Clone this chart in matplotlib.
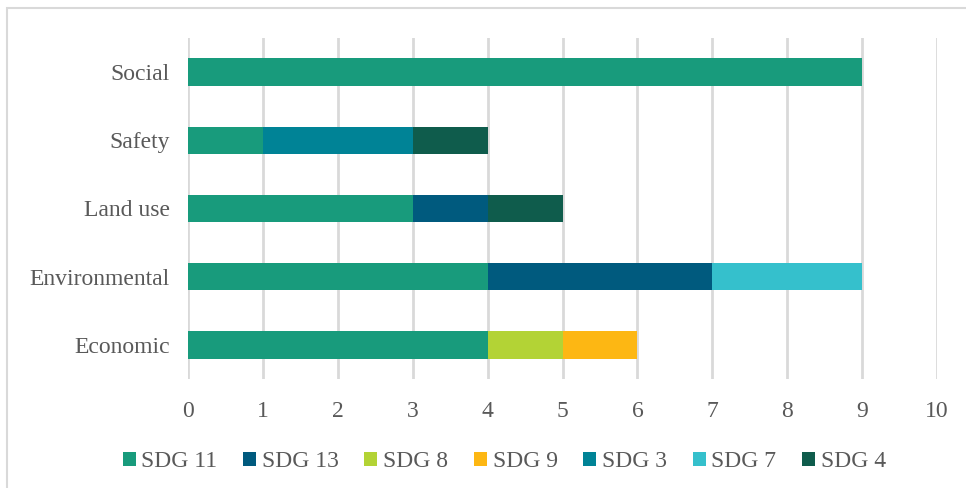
import numpy as np
from matplotlib import pyplot as plt
from matplotlib.patches import Rectangle

categories = ["Economic", "Environmental", "Land use", "Safety", "Social"]
series = ["SDG 11", "SDG 13", "SDG 8", "SDG 9", "SDG 3", "SDG 7", "SDG 4"]
values = {
    "SDG 11": [4, 4, 3, 1, 9],
    "SDG 13": [0, 3, 1, 0, 0],
    "SDG 8": [1, 0, 0, 0, 0],
    "SDG 9": [1, 0, 0, 0, 0],
    "SDG 3": [0, 0, 0, 2, 0],
    "SDG 7": [0, 2, 0, 0, 0],
    "SDG 4": [0, 0, 1, 1, 0],
}
colors = ["#189B7C", "#005A7E", "#B3D335", "#FDB713", "#008396", "#35C0CC", "#0F5C4C"]

plt.rcParams['font.family'] = ['Liberation Serif', 'DejaVu Serif']
txt = "#595959"

fig = plt.figure(figsize=(9.66, 4.88), dpi=100)
ax = fig.add_axes([188/966, 1 - 379/488, (937-188)/966, (379-38)/488])

y = np.arange(len(categories))
left = np.zeros(len(categories))
for name, col in zip(series, colors):
    v = np.array(values[name], dtype=float)
    ax.barh(y, v, left=left, height=0.4, color=col, label=name, zorder=3)
    left += v

ax.set_xlim(0, 10)
ax.set_ylim(-0.5, 4.5)
ax.set_xticks(range(0, 11))
ax.set_yticks(y)
ax.set_yticklabels(categories)
ax.grid(axis='x', color='#D9D9D9', linewidth=2, zorder=0)
for s in ax.spines.values():
    s.set_visible(False)
ax.tick_params(length=0, labelsize=17, colors=txt)
ax.tick_params(axis='x', pad=16)
ax.tick_params(axis='y', pad=13)

fig.legend(loc='center', bbox_to_anchor=(0.522, 0.054), ncol=7, frameon=False,
           fontsize=17, labelcolor=txt, handlelength=0.55, handleheight=0.55,
           handletextpad=0.25, columnspacing=1.08)

# chart border: only left and top edges fall inside the picture
fig.patches.append(Rectangle((7/966, -0.1), 1.2, 1 - 8/488 + 0.1, transform=fig.transFigure,
                             fill=False, edgecolor='#D9D9D9', linewidth=1.5))

fig.savefig("out.png", dpi=100)
